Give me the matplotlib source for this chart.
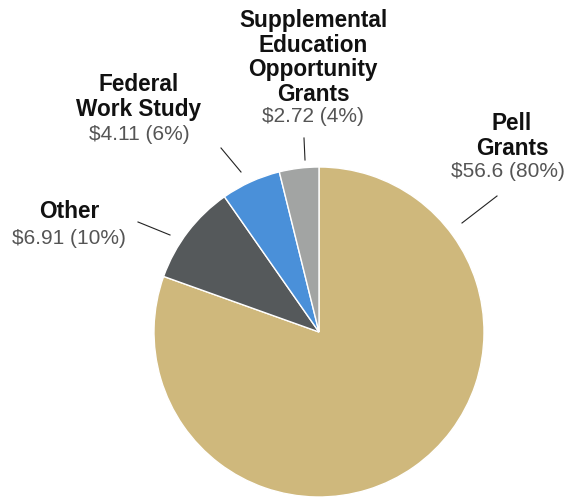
import matplotlib
matplotlib.use("Agg")
import matplotlib.pyplot as plt

categories = ["Pell Grants", "Other", "Federal Work Study", "Supplemental Education Opportunity Grants"]
values = [56.6, 6.91, 4.11, 2.72]
value_labels = ["$56.6 (80%)", "$6.91 (10%)", "$4.11 (6%)", "$2.72 (4%)"]
name_lines = [["Pell", "Grants"], ["Other"], ["Federal", "Work Study"],
              ["Supplemental", "Education", "Opportunity", "Grants"]]
colors = ["#CFB87C", "#55595B", "#4A90D9", "#A2A4A3"]

plt.rcParams['font.family'] = ['Liberation Sans', 'DejaVu Sans']

W, H = 567, 498
fig = plt.figure(figsize=(W / 100, H / 100), dpi=100)
cx, cy, r = 319, 332, 165
ax = fig.add_axes([(cx - r) / W, (H - cy - r) / H, 2 * r / W, 2 * r / H])
ax.pie(values, colors=colors, startangle=90, counterclock=False,
       wedgeprops=dict(edgecolor="white", linewidth=1.0))
ax.set_xlim(-1, 1)
ax.set_ylim(-1, 1)
ax.set_aspect("equal")
ax.axis("off")

def d(px, py):
    return ((px - cx) / r, (cy - py) / r)

# label layout in pixels: (center x, first line y, value x, value y, leader line)
layout = [
    (512, 124, 508, 172, ((462, 223), (497, 196))),
    (69, 212, 69, 238, ((170, 235), (138, 222))),
    (139, 85, 139, 135, ((241, 172), (221, 148))),
    (313, 21, 313, 117, ((305, 160), (304, 138))),
]
lh = 24.5
for lines, val, (lx, ly, vx, vy, seg) in zip(name_lines, value_labels, layout):
    for i, t in enumerate(lines):
        x, y = d(lx, ly + i * lh)
        ax.text(x, y, t, ha="center", va="center", fontsize=16.3, fontweight="bold",
                color="#111111", clip_on=False)
    x, y = d(vx, vy)
    ax.text(x, y, val, ha="center", va="center", fontsize=15, color="#555555",
            clip_on=False)
    (x0, y0), (x1, y1) = seg
    a, b = d(x0, y0)
    c, e = d(x1, y1)
    ax.plot([a, c], [b, e], color="#222222", linewidth=0.8, clip_on=False)

fig.savefig("out.png", dpi=100)
